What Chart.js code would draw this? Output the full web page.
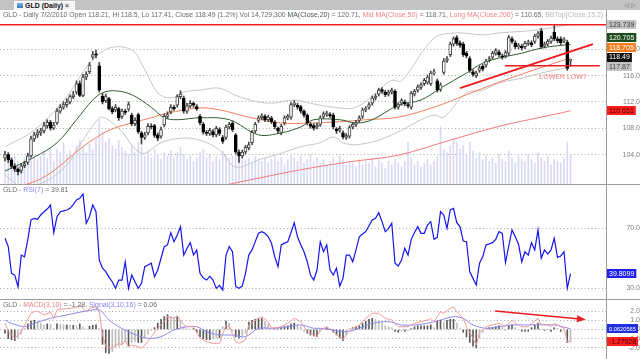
<!DOCTYPE html>
<html>
<head>
<meta charset="utf-8">
<script src="https://cdn.jsdelivr.net/npm/chart.js@4.4.0/dist/chart.umd.min.js"></script>
<style>
  body { margin: 0; width: 640px; height: 359px; overflow: hidden; background: #fff; position: relative;
         font-family: "Liberation Sans", Arial, sans-serif; }
  canvas, .abs { position: absolute; left: 0; }
  #bar { top: 0; width: 640px; height: 10px; background: #c3c3c3; }
  #tab { left: 14px; top: 1px; width: 61px; height: 9px; background: #f3f3f3; border: 1px solid #fff; border-bottom: none;
         box-sizing: border-box; font-size: 7px; line-height: 8px; color: #111; white-space: nowrap; }
  #tab .ico { display: inline-block; width: 6px; height: 5px; margin: 0 2px 0 2px; background: linear-gradient(#7fb6e8, #2f74b8); }
  #nav { left: 624px; top: 0; font-size: 6px; line-height: 10px; color: #666; }
  .ttl { left: 3px; font-size: 6.9px; line-height: 8px; color: #6a6a6a; white-space: nowrap; overflow: hidden; z-index: 2; }
  #hdr { top: 11px; width: 603px; }
  .sep { width: 640px; height: 1px; background: #9c9c9c; }
  .dk { color: #4b574b; } .sa { color: #f08080; } .lg { color: #b8b8b8; } .bl { color: #8585f0; }
</style>
</head>
<body>
<div id="bar" class="abs"></div>
<div id="tab" class="abs"><span class="ico"></span><b>GLD (Daily)</b> ×</div>
<div id="nav" class="abs">◁ ▷</div>
<div id="hdr" class="abs ttl">GLD - Daily 7/2/2010 Open 118.21, Hi 118.5, Lo 117.41, Close 118.49 (1.2%) Vol 14,729,300 <span class="dk">MA(Close,20)</span> = 120.71, <span class="sa">Mid MA(Close,50)</span> = 118.71, <span class="sa">Long MA(Close,200)</span> = 110.65, <span class="lg">BBTop(Close,15,2) = 123.74</span></div>
<canvas id="price" width="640" height="174" style="top:10px"></canvas>
<div class="abs sep" style="top:184px"></div>
<div class="abs ttl" style="top:186px">GLD - <span class="bl">RSI(7)</span> = 39.81</div>
<canvas id="rsi" width="640" height="114" style="top:185px"></canvas>
<div class="abs sep" style="top:299px"></div>
<div class="abs ttl" style="top:301px">GLD - <span class="sa">MACD(3,10)</span> = -1.28, <span class="bl">Signal(3,10,16)</span> = 0.06</div>
<canvas id="macd" width="640" height="59" style="top:300px"></canvas>

<script>
// daily bars, index 0 = first session shown, 174 = 7/2/2010
const opens = [
  103.5,104.0,103.2,102.2,101.8,101.6,102.3,102.8,103.8,106.4,
  107.0,107.3,107.6,108.4,108.9,108.0,108.8,110.6,111.2,111.6,
  112.0,112.8,113.5,114.8,113.0,115.8,116.6,118.8,119.3,117.5,
  112.9,112.2,112.5,111.0,110.8,111.0,109.8,110.6,110.9,110.0,
  108.7,110.1,107.3,106.6,107.3,108.3,108.4,107.0,106.8,108.5,
  109.8,110.5,111.2,111.5,112.8,112.6,110.6,111.4,111.8,111.3,
  109.8,108.6,107.4,107.2,107.5,107.0,107.8,106.6,106.6,108.2,
  108.8,107.0,104.4,103.8,104.4,105.0,105.8,107.6,109.2,109.6,
  109.8,109.3,109.5,108.9,108.0,107.3,108.8,109.6,109.7,111.6,
  111.5,111.3,110.6,110.0,108.6,108.4,108.2,108.6,109.8,110.1,
  110.1,110.0,107.9,107.7,107.3,106.6,106.8,108.2,108.6,109.2,
  109.8,110.8,111.2,111.8,112.6,113.2,113.9,113.5,113.2,113.5,
  113.6,111.2,111.8,112.0,111.6,111.2,113.2,113.8,114.2,114.8,
  115.0,114.8,116.4,115.2,113.9,116.5,118.3,119.2,120.8,121.8,
  121.0,120.8,119.4,118.6,116.6,116.0,116.8,117.4,117.6,118.4,
  118.8,119.4,119.6,119.0,119.0,119.4,121.6,121.0,120.4,120.5,
  120.4,120.9,121.0,121.2,122.0,122.8,120.5,120.8,121.2,122.6,
  121.6,121.6,121.3,121.1,118.21
];
const highs = [
  104.5,104.3,103.5,102.6,102.0,102.6,103.0,104.2,106.8,107.4,
  107.8,108.0,108.9,109.3,109.2,108.9,111.0,111.6,112.0,112.5,
  113.1,113.6,115.2,115.2,116.2,116.6,118.0,119.7,119.9,118.0,
  113.3,113.2,112.7,111.3,111.6,111.2,110.9,110.9,112.0,110.3,
  109.6,110.3,107.5,107.4,108.7,108.7,108.6,107.3,108.2,110.2,
  110.5,111.6,111.5,113.1,113.7,112.9,111.8,112.2,112.0,111.6,
  110.1,108.9,107.7,108.0,107.8,108.3,108.1,106.9,108.5,108.9,
  109.1,107.2,104.7,104.7,105.4,105.9,107.7,108.9,109.9,110.2,
  110.1,110.0,109.8,109.2,108.2,108.6,109.9,110.1,111.9,112.2,
  111.8,111.5,110.8,110.2,108.9,108.7,108.8,109.9,110.5,110.6,
  110.4,110.3,108.1,108.3,107.6,107.2,108.4,108.9,109.2,109.9,
  111.1,111.3,111.9,112.9,113.2,114.1,114.2,113.8,113.8,114.1,
  113.9,111.9,112.5,112.3,111.9,113.6,113.9,114.6,114.9,115.6,
  116.1,116.7,117.0,115.5,114.9,118.6,118.9,121.1,121.9,122.1,
  121.3,121.1,119.7,118.9,116.9,116.7,117.5,117.7,118.5,118.9,
  119.7,120.1,119.9,119.3,119.8,122.1,121.9,121.3,120.9,120.8,
  121.2,121.4,121.3,122.3,122.7,123.2,121.1,121.5,122.0,123.7,
  121.9,121.9,121.8,121.4,118.5
];
const lows = [
  103.0,102.8,101.9,101.4,100.9,101.2,102.0,102.5,103.6,106.0,
  106.6,106.9,107.3,108.0,107.7,107.8,108.6,110.3,110.9,111.2,
  111.7,112.5,113.2,112.8,112.8,115.4,116.3,118.5,118.7,113.5,
  111.7,111.9,110.8,110.2,110.5,109.2,109.5,110.1,110.6,108.4,
  108.4,107.2,105.6,106.3,107.0,107.9,106.6,106.1,106.5,108.2,
  109.5,110.2,110.7,111.2,112.5,110.3,110.3,111.1,111.2,110.7,
  108.5,107.1,106.9,106.9,106.7,106.7,106.9,105.7,106.3,107.9,
  107.5,104.1,102.8,103.5,104.1,104.7,105.5,107.3,108.9,109.3,
  109.0,109.0,108.7,107.9,107.2,107.0,108.5,109.3,109.4,111.3,
  110.9,110.3,109.7,108.5,108.0,107.7,107.9,108.3,109.5,109.8,
  109.6,107.9,107.2,107.4,106.4,106.3,106.5,107.9,108.3,108.9,
  109.5,110.5,110.9,111.5,112.3,112.9,113.3,112.8,112.9,113.2,
  110.9,110.9,111.5,111.4,111.1,110.9,112.9,113.5,113.9,114.5,
  114.7,114.5,116.1,113.5,113.6,116.2,118.0,118.9,120.5,120.6,
  120.3,118.9,118.7,116.5,115.9,115.7,116.5,116.7,117.3,118.1,
  118.5,119.1,118.9,118.5,118.7,119.1,120.9,120.1,120.1,119.9,
  120.1,120.6,120.4,120.9,121.7,120.1,120.2,120.5,120.9,121.3,
  121.0,120.7,121.0,116.8,117.41
];
const closes = [
  104.0,103.2,102.2,101.8,101.4,102.3,102.6,103.8,106.4,107.0,
  107.3,107.6,108.4,108.9,108.0,108.5,110.6,111.2,111.6,112.0,
  112.8,113.1,114.8,113.0,115.8,116.2,117.6,119.2,119.1,113.8,
  112.0,112.8,111.0,110.5,111.2,109.6,110.6,110.4,111.6,108.7,
  109.2,107.5,106.6,107.0,108.3,108.2,106.9,106.5,107.8,109.8,
  110.1,111.2,111.0,112.8,113.2,110.6,111.4,111.8,111.5,111.0,
  108.8,107.4,107.2,107.7,107.0,108.0,107.2,106.0,108.2,108.6,
  107.8,104.4,103.8,104.4,105.1,105.5,107.4,108.6,109.6,109.9,
  109.3,109.7,109.0,108.2,107.6,108.3,109.6,109.8,111.6,111.8,
  111.2,110.6,110.0,108.8,108.3,108.0,108.5,109.6,110.2,110.3,
  109.9,108.2,107.6,108.0,106.7,106.9,108.1,108.6,108.9,109.6,
  110.8,111.0,111.6,112.6,112.9,113.8,113.6,113.1,113.5,113.8,
  111.2,111.6,112.2,111.7,111.4,113.3,113.6,114.3,114.6,115.3,
  115.8,116.4,116.6,113.8,114.6,118.2,118.6,120.8,121.6,120.9,
  120.6,119.2,119.0,116.8,116.2,116.4,117.2,117.0,118.2,118.6,
  119.4,119.8,119.2,118.8,119.5,121.8,121.2,120.4,120.6,120.2,
  120.9,121.1,120.7,122.0,122.4,120.4,120.8,121.2,121.7,121.6,
  121.3,121.0,121.5,117.1,118.49
];
// volume, millions of shares
const volumes = [
  12,14,11,16,13,10,15,18,22,17, 14,16,19,15,21,13,20,18,24,17,
  19,16,22,25,21,18,23,20,26,37, 30,24,26,22,20,25,21,19,17,22,
  18,24,21,16,19,15,20,17,14,18, 16,19,15,18,21,17,14,16,13,15,
  18,20,15,17,13,16,14,19,17,15, 16,22,20,17,14,15,12,16,14,13,
  15,12,14,16,13,15,11,14,17,15, 13,16,12,14,17,13,15,12,14,11,
  13,15,12,16,14,11,13,12,10,14, 11,13,12,15,10,14,12,9,13,11,
  14,12,10,13,24,15,11,13,10,12, 14,11,13,16,33,20,18,22,26,24,
  20,22,17,24,19,15,18,14,16,13, 15,12,17,14,13,19,15,12,16,14,
  13,17,14,12,18,15,13,16,11,14, 13,12,15,24,17
];

// overlays, sampled at bar index
const ma20Idx = [0,9,16,22,27,30,34,39,45,49,53,60,69,78,85,91,95,103,108,113,121,128,134,142,147,153,159,165,173,174];
const ma20 = [101.5,103.6,105.8,109.3,112.3,113.4,113.7,113.1,111.2,109.6,109.3,109.6,109.3,107.0,107.3,108.2,109.3,109.3,108.8,109.3,111.5,112.3,114.1,116.4,117.9,118.8,119.4,120.2,120.7,120.71];
const ma50Idx = [0,8,14,24,32,39,45,50,60,66,75,85,94,103,111,121,132,142,152,163,174];
const ma50 = [98.8,99.7,101.2,105.2,107.7,108.8,109.6,110.3,111.1,110.8,109.7,108.8,108.8,109.0,109.3,109.7,111.2,113.1,115.0,116.9,118.71];
const ma200Idx = [66,91,106,121,137,152,165,174];
const ma200 = [99.2,101.7,102.9,103.9,106.2,108.3,109.7,110.65];
const bbTopIdx = [0,9,19,26,32,39,43,47,51,55,60,66,72,81,89,94,101,108,115,119,122,132,139,147,152,163,173,174];
const bbTop = [105.2,107.7,112.8,117.9,120.2,119.9,116.9,113.4,112.6,113.5,113.8,114.1,112.8,111.8,112.3,111.8,111.2,111.2,113.8,115.3,115.2,121.7,122.5,122.2,122.5,122.9,123.7,123.74];
const bbBotIdx = [0,5,12,19,23,28,30,35,42,48,54,60,66,71,78,85,91,97,101,104,108,115,122,128,132,135,142,147,152,159,165,173,174];
const bbBot = [100.9,99.2,99.8,102.4,105.5,109.0,109.7,108.0,104.2,105.8,106.5,106.2,104.7,102.1,103.2,104.2,105.2,105.8,106.7,105.8,105.5,106.2,107.7,109.3,110.0,109.7,113.4,113.8,114.9,115.6,116.4,117.2,117.0];

// hand-drawn lines
const bbTopLevel = 123.739;
const trendIdx = [140, 180.9];
const trendVal = [114.1, 120.8];
const supportIdx = [153.8, 183];
const supportVal = [117.5, 117.5];
const noteIdx = 171.7, noteVal = 115.8, noteText = 'LOWER LOW?';

const priceTicks = [104, 108, 112, 116, 120];
const priceTagVals = [123.739, 120.705, 118.705, 118.49, 117.87, 110.651];

const rsi = [
  63.2,57.7,40.0,38.9,31.2,52.1,51.0,62.1,75.3,76.4,
  75.7,78.6,80.8,82.5,85.2,66.9,77.5,80.8,81.3,81.9,
  83.0,85.5,88.5,89.6,92.5,73.1,77.5,85.2,80.8,48.8,
  43.4,41.1,37.5,34.5,30.1,35.6,35.6,47.7,30.1,38.9,
  34.5,30.1,33.4,44.4,45.5,46.7,37.8,42.2,50.0,57.6,
  58.8,66.9,60.9,65.4,70.9,52.1,56.5,60.3,52.1,55.5,
  40.0,37.0,35.6,38.0,35.6,30.1,32.0,28.9,52.1,57.7,
  54.3,31.2,30.1,31.6,40.0,52.1,55.5,61.0,66.5,67.6,
  66.5,64.2,59.9,51.0,44.4,58.8,60.0,60.9,67.0,73.5,
  64.2,59.0,54.3,47.7,38.9,35.6,42.2,60.9,54.3,58.8,
  42.2,38.9,43.4,31.6,36.7,52.1,52.1,47.7,55.5,64.2,
  66.0,67.6,71.5,75.3,76.4,80.1,74.2,67.6,69.8,73.1,
  46.7,44.9,48.8,56.6,52.1,62.5,67.0,70.9,66.5,66.5,
  72.0,74.2,62.5,63.8,80.8,78.6,69.8,81.9,83.0,73.5,
  70.9,61.4,60.9,41.1,36.7,32.3,46.7,51.0,58.8,59.5,
  60.3,62.5,67.6,66.5,47.1,58.1,68.7,64.2,59.4,47.7,
  54.3,52.1,60.3,55.5,68.7,50.0,55.5,52.8,55.5,63.2,
  50.6,51.5,54.3,30.1,39.81
];
const rsiTicks = [30, 70];
const rsiTagVals = [39.8099];

const macdIdx = [0,1,3,5,6,8,9,10,12,14,15,16,18,20,22,23,25,26,28,29,30,31,33,35,36,37,38,39,41,42,44,45,47,49,50,52,53,55,56,58,60,62,64,66,68,69,71,72,74,75,78,79,81,82,85,87,89,91,93,95,96,97,99,101,104,106,109,111,113,115,117,119,121,124,126,128,130,131,132,134,135,137,138,139,141,142,144,145,146,148,150,152,154,156,157,159,161,164,165,167,168,169,171,172,173,174];
const macd = [0.67,-0.24,-0.95,-0.24,0.49,1.75,1.93,2.0,1.57,1.86,1.21,2.11,2.22,2.29,2.36,2.65,1.93,2.29,2.47,2.0,-0.59,-1.86,-2.03,-1.49,-1.68,-1.14,-1.86,-1.68,-1.86,-2.03,-1.32,-0.78,0.13,0.84,1.38,1.21,1.49,0.49,0.30,0.30,-0.95,-1.32,-1.49,-1.49,0.49,0.30,-1.32,-1.49,-1.14,0.49,1.21,1.38,0.84,0.13,0.30,0.67,1.21,0.84,-0.24,-0.59,-0.78,-0.05,0.30,-0.24,-1.14,-0.05,0.49,1.21,1.75,1.75,1.21,1.03,0.30,0.30,0.67,0.84,1.03,1.21,0.84,1.93,1.75,2.29,2.47,1.93,1.21,0.30,-0.95,-1.68,-0.41,0.30,0.49,0.67,0.30,1.03,0.67,0.30,0.30,1.21,0.49,0.49,0.30,0.67,0.30,0.13,-1.32,-1.28];
const signalIdx = [0,2,6,9,14,19,24,29,32,35,39,44,48,52,56,59,62,66,70,74,78,82,87,91,95,97,101,105,109,113,118,122,126,130,134,138,141,144,148,152,156,161,165,169,173,174];
const signal = [1.03,0.67,0.30,0.67,1.21,1.57,1.93,2.11,1.03,0.30,-0.41,-0.95,-0.78,-0.05,0.30,0.30,-0.24,-0.59,-0.59,-0.78,0.13,0.13,0.30,0.49,0.13,0.13,-0.05,-0.24,0.13,0.67,0.84,0.49,0.49,0.67,1.03,1.38,1.21,0.49,0.13,0.30,0.49,0.49,0.52,0.49,0.16,0.06];
const hist = [
  -0.4,-1.0,-1.1,-1.2,-0.9,-0.5,0.1,0.6,0.9,1.0,
  0.9,0.7,0.5,0.6,0.55,0.1,0.6,0.55,0.5,0.5,
  0.45,0.45,0.4,0.6,0.3,0.05,0.35,0.45,0.5,0.1,
  -1.6,-2.5,-2.6,-2.4,-1.9,-1.8,-1.6,-1.3,-1.8,-1.4,
  -1.3,-1.4,-1.4,-0.9,-0.5,-0.1,0.2,0.7,1.1,1.4,
  1.6,1.4,1.3,1.4,1.0,0.3,0.1,0.05,0.1,-0.3,
  -0.8,-1.0,-1.1,-1.1,-1.0,-0.9,-0.9,0.3,0.9,0.7,
  -0.2,-0.8,-0.9,-0.7,-0.4,0.8,1.0,1.1,1.2,1.2,
  0.9,0.6,0.1,0.1,0.1,0.2,0.3,0.4,0.6,0.7,
  0.5,0.3,-0.2,-0.4,-0.6,-0.7,-0.8,-0.2,0.1,0.2,
  0.1,-0.3,-0.6,-0.9,-1.2,-0.6,0.1,0.2,0.3,0.4,
  0.7,0.9,1.1,1.2,1.1,1.0,0.7,0.4,0.3,0.2,
  -0.2,-0.3,-0.2,-0.2,-0.1,0.1,0.3,0.4,0.4,0.4,
  0.4,0.5,0.2,0.9,1.0,0.8,1.0,1.1,1.1,0.7,
  0.1,-0.3,-0.8,-1.4,-1.8,-2.0,-0.9,-0.3,0.1,0.2,
  0.2,0.3,0.4,0.2,-0.1,0.4,0.5,0.2,0.0,-0.2,
  -0.2,-0.2,0.2,0.5,0.7,0.0,-0.1,0.0,-0.2,0.2,
  0.1,-0.2,-0.1,-1.4,-1.34
];
const macdTicks = [-2, -1, 0, 1, 2];
const macdTagVals = [0.0620565, -1.27928];
const arrowIdx = [150.8, 176.9];
const arrowVal = [2.0, 1.14];

// ---------- layout ----------
const FONT = '"Liberation Sans", Arial, sans-serif';
const AXIS_W = 34;
const X_MIN = -1.54, X_MAX = 184.92;
const PRICE_MIN = 99.53, PRICE_MAX = 125.98;
const RSI_MIN = 23.06, RSI_MAX = 98.43;
const MACD_MIN = -3.19, MACD_MAX = 3.19;
const TAG_GAP = 9.8;

Chart.defaults.font.family = FONT;
Chart.defaults.animation = false;
Chart.defaults.events = [];
Chart.defaults.plugins.legend.display = false;
Chart.defaults.plugins.tooltip.enabled = false;

const pts = (idx, val) => idx.map((x, k) => ({ x: x, y: val[k] }));

function lineDs(data, color, width, order, extra) {
  return Object.assign({ type: 'line', data: data, borderColor: color, borderWidth: width,
    pointRadius: 0, tension: 0, order: order, yAxisID: 'y' }, extra || {});
}

function xScale() {
  return { type: 'linear', display: false, min: X_MIN, max: X_MAX, offset: false, grid: { display: false } };
}

function yScale(min, max, ticks, pad) {
  return {
    type: 'linear', position: 'right', min: min, max: max,
    afterBuildTicks: s => { s.ticks = ticks.map(v => ({ value: v })); },
    afterFit: s => { s.width = AXIS_W; s.paddingTop = 0; s.paddingBottom = 0; },
    grid: { color: '#a8a8a8', drawTicks: false },
    border: { display: true, color: '#9c9c9c', dash: [1, 2.5] },
    ticks: { color: '#808080', font: { size: 7 }, padding: pad, crossAlign: 'far',
             callback: v => v.toFixed(1) }
  };
}

// value boxes on the right axis, pushed apart when they overlap (the upper box gives way more)
const tagPlugin = {
  id: 'tags',
  afterDraw(chart, args, opts) {
    const ys = chart.scales.y, ctx = chart.ctx;
    const left = chart.chartArea.right + 1;
    const pos = opts.values.map((v, k) => ({ v: v, st: opts.styles[k], y: ys.getPixelForValue(v) }));
    for (let it = 0; it < 80; it++) {
      pos.sort((a, b) => a.y - b.y);
      for (let k = 1; k < pos.length; k++) {
        const d = pos[k].y - pos[k - 1].y;
        if (d < TAG_GAP) { const m = TAG_GAP - d; pos[k - 1].y -= m * 0.7; pos[k].y += m * 0.3; }
      }
    }
    ctx.save();
    ctx.textBaseline = 'middle';
    pos.forEach(p => {
      const txt = String(p.v);
      let size = 7;
      ctx.font = size + 'px ' + FONT;
      let w = ctx.measureText(txt).width;
      if (w > 27) { size = size * 27 / w; ctx.font = size + 'px ' + FONT; w = 27; }
      ctx.fillStyle = p.st[0];
      ctx.fillRect(left, Math.round(p.y - 4.5), w + 4, 9);
      ctx.fillStyle = p.st[1];
      ctx.fillText(txt, left + 2, p.y + 0.5);
    });
    ctx.restore();
  }
};

// text note and arrow heads drawn in data space
const notePlugin = {
  id: 'notes',
  afterDatasetsDraw(chart, args, opts) {
    const ctx = chart.ctx, xs = chart.scales.x, ys = chart.scales.y;
    ctx.save();
    if (opts.text) {
      ctx.font = '7px ' + FONT;
      ctx.fillStyle = opts.color;
      ctx.textAlign = 'center';
      ctx.textBaseline = 'middle';
      ctx.fillText(opts.text, xs.getPixelForValue(opts.x), ys.getPixelForValue(opts.y));
    }
    if (opts.arrow) {
      const a = opts.arrow;
      const x0 = xs.getPixelForValue(a.x[0]), y0 = ys.getPixelForValue(a.y[0]);
      const x1 = xs.getPixelForValue(a.x[1]), y1 = ys.getPixelForValue(a.y[1]);
      const ang = Math.atan2(y1 - y0, x1 - x0);
      ctx.fillStyle = a.color;
      ctx.translate(x1, y1);
      ctx.rotate(ang);
      ctx.beginPath();
      ctx.moveTo(6, 0); ctx.lineTo(-3, -3.5); ctx.lineTo(-3, 3.5); ctx.closePath();
      ctx.fill();
    }
    ctx.restore();
  }
};

// ---------- price panel ----------
const up = opens.map((o, i) => closes[i] >= o);
new Chart(document.getElementById('price'), {
  type: 'bar',
  data: { datasets: [
    { type: 'bar', data: volumes.map((v, i) => ({ x: i, y: v })), yAxisID: 'vol',
      backgroundColor: '#d9d9f7', barThickness: 1, grouped: false, order: 9 },
    lineDs(pts(bbTopIdx, bbTop), '#c6c6c6', 1, 8, { tension: 0.35 }),
    lineDs(pts(bbBotIdx, bbBot), '#c6c6c6', 1, 8, { tension: 0.35 }),
    lineDs(pts(ma200Idx, ma200), '#f27a7a', 1, 7, { tension: 0.3 }),
    lineDs(pts(ma50Idx, ma50), '#f3805e', 1, 7, { tension: 0.35 }),
    lineDs(pts(ma20Idx, ma20), '#2f5f2f', 1, 6, { tension: 0.35 }),
    { type: 'bar', data: lows.map((l, i) => ({ x: i, y: [l, highs[i]] })),
      backgroundColor: '#444', barThickness: 1, grouped: false, order: 3 },
    { type: 'bar', data: opens.map((o, i) => ({ x: i, y: [o, closes[i]] })),
      backgroundColor: up.map(u => u ? '#ffffff' : '#000000'),
      borderColor: up.map(u => u ? '#444444' : '#000000'),
      borderWidth: 1, borderSkipped: false, barThickness: 3, minBarLength: 1, grouped: false, order: 2 },
    lineDs(pts([X_MIN, X_MAX], [bbTopLevel, bbTopLevel]), '#ee2020', 1.5, 1),
    lineDs(pts(trendIdx, trendVal), '#ee1c1c', 2, 0),
    lineDs(pts(supportIdx, supportVal), '#ee1c1c', 1.5, 0)
  ] },
  options: {
    responsive: false,
    layout: { padding: 0 },
    scales: {
      x: xScale(),
      y: yScale(PRICE_MIN, PRICE_MAX, priceTicks, 14),
      vol: { type: 'linear', axis: 'y', display: false, min: 0, max: 100 }
    },
    plugins: {
      tags: { values: priceTagVals, styles: [['#c3c3c3', '#333'], ['#1d4d1d', '#fff'], ['#f47b20', '#fff'],
                                             ['#101010', '#fff'], ['#c3c3c3', '#444'], ['#ff1e1e', '#4a0000']] },
      notes: { text: noteText, x: noteIdx, y: noteVal, color: '#f08080' }
    }
  },
  plugins: [tagPlugin, notePlugin]
});

// ---------- RSI panel ----------
new Chart(document.getElementById('rsi'), {
  type: 'line',
  data: { datasets: [
    lineDs(rsi.map((v, i) => ({ x: i, y: v })), '#1515ee', 1.2, 0)
  ] },
  options: {
    responsive: false,
    layout: { padding: 0 },
    scales: { x: xScale(), y: yScale(RSI_MIN, RSI_MAX, rsiTicks, 18) },
    plugins: { tags: { values: rsiTagVals, styles: [['#2020f0', '#fff']] }, notes: {} }
  },
  plugins: [tagPlugin, notePlugin]
});

// ---------- MACD panel ----------
new Chart(document.getElementById('macd'), {
  type: 'bar',
  data: { datasets: [
    { type: 'bar', data: hist.map((h, i) => ({ x: i, y: h })),
      backgroundColor: hist.map((h, i) => Math.abs(h) >= Math.abs(i ? hist[i - 1] : 0) ? '#5a5a5a' : '#bdbdbd'),
      barThickness: 1, grouped: false, order: 5 },
    lineDs(pts(signalIdx, signal), '#8a8af2', 1, 2, { tension: 0.3 }),
    lineDs(pts(macdIdx, macd), '#f49a9a', 1, 1),
    lineDs(pts(arrowIdx, arrowVal), '#ee1c1c', 1.5, 0)
  ] },
  options: {
    responsive: false,
    layout: { padding: 0 },
    scales: { x: xScale(), y: yScale(MACD_MIN, MACD_MAX, macdTicks, 20) },
    plugins: {
      tags: { values: macdTagVals, styles: [['#2030e0', '#fff'], ['#ff1e1e', '#3a0000']] },
      notes: { arrow: { x: arrowIdx, y: arrowVal, color: '#ee1c1c' } }
    }
  },
  plugins: [tagPlugin, notePlugin]
});
</script>
</body>
</html>
